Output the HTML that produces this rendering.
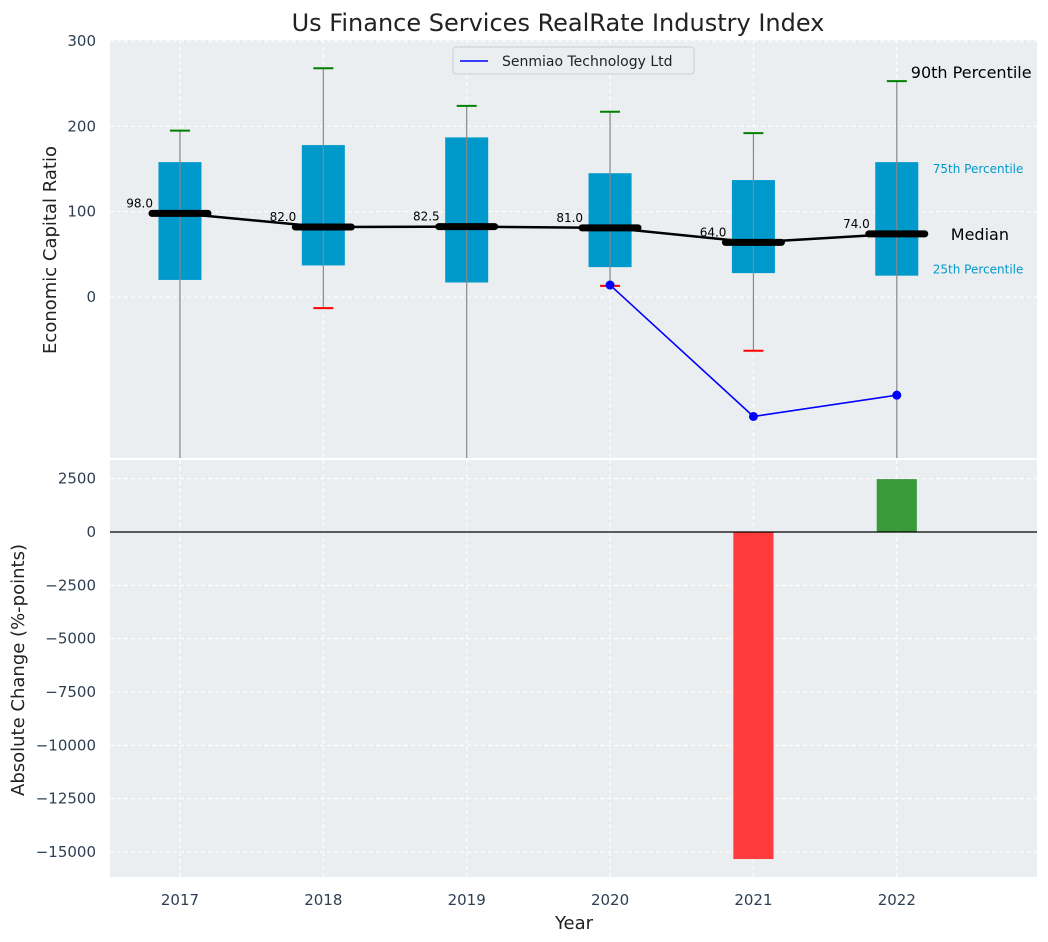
<!DOCTYPE html>
<html><head><meta charset="utf-8"><style>
body{margin:0;background:#fff;font-family:"Liberation Sans","DejaVu Sans",sans-serif}
svg{display:block}
text{font-family:"DejaVu Sans","Liberation Sans",sans-serif}
</style></head><body>
<svg id="c" width="1048" height="942"></svg>
<script>
const years=[2017,2018,2019,2020,2021,2022];
const q1=[20,37,17,35,28,25];
const q3=[158,178,187,145,137,158];
const medians=[98,82,82.5,81,64,74];
const p90=[195,268,224,217,192,253];
const p10=[-250,-13,-250,13,-63,-250];
const companyYears=[2020,2021,2022];
const companyVals=[14,-140,-115];
const changeYears=[2021,2022];
const changeVals=[-15330,2480];
const topTicks=[0,100,200,300];
const botTicks=[2500,0,-2500,-5000,-7500,-10000,-12500,-15000];

const NS="http://www.w3.org/2000/svg";
const svg=document.getElementById('c');
function el(t,a,p){const e=document.createElementNS(NS,t);for(const k in a)e.setAttribute(k,a[k]);(p||svg).appendChild(e);return e;}
const fmt=v=>v<0?'\u2212'+Math.abs(v):String(v);
const L=110,R=1037;
const x=v=>L+(v-2016.512)/(2022.978-2016.512)*(R-L);
const T0=40,T1=458,yT=v=>297-v*0.8535;
const B0=460,B1=877,yB=v=>532-v*0.021333;

el('rect',{x:L,y:T0,width:R-L,height:T1-T0,fill:'#ebeef0',});
el('rect',{x:L,y:B0,width:R-L,height:B1-B0,fill:'#ebeef0',});
const gs={stroke:'#fff','stroke-dasharray':'4,3','stroke-width':1};
years.forEach(y=>{el('line',{x1:x(y),x2:x(y),y1:T0,y2:T1,...gs});el('line',{x1:x(y),x2:x(y),y1:B0,y2:B1,...gs});});
topTicks.forEach(t=>{el('line',{x1:L,x2:R,y1:yT(t),y2:yT(t),...gs});
 const tx=el('text',{x:L-14,y:yT(t)+5,'text-anchor':'end','font-size':15,fill:'#2e3f52'});tx.textContent=fmt(t);
 });
botTicks.forEach(t=>{el('line',{x1:L,x2:R,y1:yB(t),y2:yB(t),...gs});
 const tx=el('text',{x:L-14,y:yB(t)+5,'text-anchor':'end','font-size':15,fill:'#2e3f52'});tx.textContent=fmt(t);
 });

const defs=el('defs',{});const cp=el('clipPath',{id:'ct'},defs);el('rect',{x:L,y:T0,width:R-L,height:T1-T0},cp);
const g=el('g',{'clip-path':'url(#ct)'});
const bw=(x(2017.15)-x(2016.85));
years.forEach((yr,i)=>{
 const cx=x(yr);
 const b=el('rect',{x:cx-bw/2,y:yT(q3[i]),width:bw,height:yT(q1[i])-yT(q3[i]),fill:'#0099cc'},g);
 
 el('line',{x1:cx,x2:cx,y1:yT(p90[i]),y2:yT(p10[i]),stroke:'#888','stroke-width':1.2},g);
 el('line',{x1:cx-10,x2:cx+10,y1:yT(p90[i]),y2:yT(p90[i]),stroke:'green','stroke-width':2},g);
 el('line',{x1:cx-10,x2:cx+10,y1:yT(p10[i]),y2:yT(p10[i]),stroke:'red','stroke-width':2},g);
});
el('polyline',{points:years.map((y,i)=>x(y)+','+yT(medians[i])).join(' '),fill:'none',stroke:'#000','stroke-width':2.5,},g);
years.forEach((yr,i)=>{
 const cx=x(yr);
 const m=el('line',{x1:cx-28,x2:cx+28,y1:yT(medians[i]),y2:yT(medians[i]),stroke:'#000','stroke-width':7,'stroke-linecap':'round'},g);
 
 const t=el('text',{x:cx-27,y:yT(medians[i])-6,'text-anchor':'end','font-size':12,fill:'#000'});t.textContent=medians[i].toFixed(1);
 
});
el('polyline',{points:companyYears.map((y,i)=>x(y)+','+yT(companyVals[i])).join(' '),fill:'none',stroke:'blue','stroke-width':1.6,},g);
companyYears.forEach((y,i)=>{const c=el('circle',{cx:x(y),cy:yT(companyVals[i]),r:4.5,fill:'blue'},g);
 });

const lx=x(2022);
[['90th Percentile',lx+14,yT(p90[5])-3,16,'#000'],['75th Percentile',lx+36,yT(q3[5])+11,12,'#0099cc'],['Median',lx+54,yT(medians[5])+6,16,'#000'],['25th Percentile',lx+36,yT(q1[5])-2,12,'#0099cc']].forEach(a=>{
 const t=el('text',{x:a[1],y:a[2],'font-size':a[3],fill:a[4]});t.textContent=a[0];
 });

const lg=el('g',{});
el('rect',{x:453,y:47,width:241,height:27,rx:3,fill:'#ebeef0',stroke:'#ccc'},lg);
el('line',{x1:460,x2:488,y1:61,y2:61,stroke:'blue','stroke-width':1.6},lg);
const lt=el('text',{x:502,y:66,'font-size':14,fill:'#222'},lg);lt.textContent='Senmiao Technology Ltd';

const bwid=x(2017.14)-x(2016.86);
changeYears.forEach((y,i)=>{const v=changeVals[i];
 const r=el('rect',{x:x(y)-bwid/2,y:Math.min(yB(0),yB(v)),width:bwid,height:Math.abs(yB(v)-yB(0)),fill:v<0?'#ff3b3b':'#3a9a3a'});
 });
el('line',{x1:L,x2:R,y1:yB(0),y2:yB(0),stroke:'#000','stroke-width':1.2,});

years.forEach(y=>{const t=el('text',{x:x(y),y:905,'text-anchor':'middle','font-size':15,fill:'#2e3f52'});t.textContent=y;
 });

const tt=el('text',{x:558,y:31,'text-anchor':'middle','font-size':24,fill:'#222',});tt.textContent='Us Finance Services RealRate Industry Index';
const xl=el('text',{x:574,y:929,'text-anchor':'middle','font-size':18,fill:'#222',});xl.textContent='Year';
const y1=el('text',{x:0,y:0,transform:'translate(56,250) rotate(-90)','text-anchor':'middle','font-size':18,fill:'#222',});y1.textContent='Economic Capital Ratio';
const y2=el('text',{x:0,y:0,transform:'translate(24,670) rotate(-90)','text-anchor':'middle','font-size':18,fill:'#222',});y2.textContent='Absolute Change (%-points)';
</script>
</body></html>
